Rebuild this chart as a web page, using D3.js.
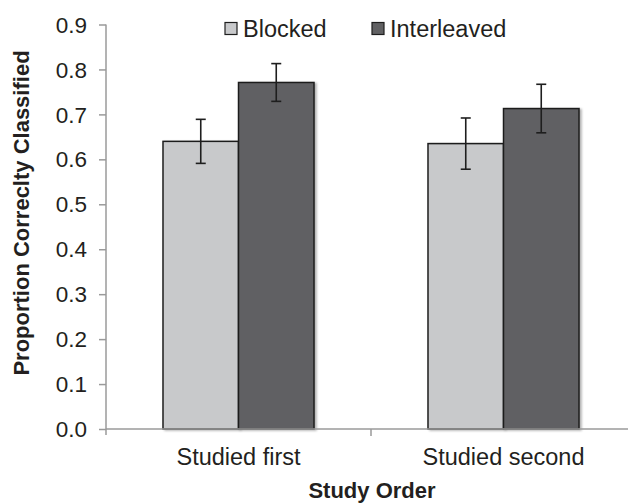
<!DOCTYPE html>
<html>
<head>
<meta charset="utf-8">
<script src="https://cdn.jsdelivr.net/npm/d3@7"></script>
<style>
  html, body { margin: 0; padding: 0; background: #fff; }
  svg { display: block; }
  text { font-family: "Liberation Sans", Arial, Helvetica, sans-serif; fill: #231f20; }
</style>
</head>
<body>
<svg id="chart" width="628" height="503"></svg>
<script>
// ---- data ----
const categories = ["Studied first", "Studied second"];
const seriesNames = ["Blocked", "Interleaved"];
const blockedValues = [0.640, 0.635];
const interleavedValues = [0.771, 0.713];
const blockedErrors = [0.049, 0.057];
const interleavedErrors = [0.042, 0.054];
const yTicks = [0.0, 0.1, 0.2, 0.3, 0.4, 0.5, 0.6, 0.7, 0.8, 0.9];
const yTitle = "Proportion Correclty Classified";
const xTitle = "Study Order";

// ---- styles / layout ----
const colors = { "Blocked": "#c8c9cb", "Interleaved": "#616163" };
const mLeft = 106, mRight = 636, mTop = 24.5, mBottom = 429;

const svg = d3.select("#chart");
const defs = svg.append("defs");
const f = defs.append("filter").attr("id", "shadow").attr("x", "-10%").attr("y", "-10%").attr("width", "130%").attr("height", "130%");
f.append("feDropShadow").attr("dx", 2).attr("dy", 1).attr("stdDeviation", 1).attr("flood-color", "#000").attr("flood-opacity", 0.3);

const y = d3.scaleLinear().domain([0, 0.9]).range([mBottom, mTop]);
const x0 = d3.scaleBand().domain(categories).range([mLeft, mRight]).padding(0);
const x1 = d3.scaleBand().domain(seriesNames).range([57, 208]).padding(0);

const rows = categories.map((c, i) => ({
  cat: c,
  items: [
    { s: "Blocked", v: blockedValues[i], e: blockedErrors[i] },
    { s: "Interleaved", v: interleavedValues[i], e: interleavedErrors[i] }
  ]
}));

// y axis
const yAxis = d3.axisLeft(y).tickValues(yTicks).tickFormat(d3.format(".1f")).tickSizeOuter(0).tickSizeInner(7).tickPadding(12);
const gy = svg.append("g").attr("transform", `translate(${mLeft},0)`).call(yAxis);
gy.select(".domain").attr("stroke", "#9a9a9a").attr("stroke-width", 1.5).attr("d", `M0,${mTop}V${mBottom + 6}`);
gy.selectAll(".tick line").attr("stroke", "#9a9a9a").attr("stroke-width", 1.5);
gy.selectAll(".tick text").attr("font-size", 22.5).attr("fill", "#231f20").attr("dy", "0.34em")
  .style("font-family", '"Liberation Sans", Arial, sans-serif');

// bars
const groups = svg.append("g").selectAll("g").data(rows).join("g")
  .attr("transform", d => `translate(${x0(d.cat)},0)`);

groups.selectAll("rect").data(d => d.items).join("rect")
  .attr("x", d => x1(d.s))
  .attr("y", d => y(d.v))
  .attr("width", x1.bandwidth())
  .attr("height", d => y(0) - y(d.v))
  .attr("fill", d => colors[d.s])
  .attr("stroke", "#1e1e1e")
  .attr("stroke-width", 1.5)
  .attr("filter", "url(#shadow)");

// error bars
const eb = groups.selectAll("g.err").data(d => d.items).join("g").attr("class", "err")
  .attr("transform", d => `translate(${x1(d.s) + x1.bandwidth() / 2},0)`);
eb.append("line").attr("x1", 0).attr("x2", 0)
  .attr("y1", d => y(d.v + d.e)).attr("y2", d => y(d.v - d.e))
  .attr("stroke", "#1e1e1e").attr("stroke-width", 1.6);
eb.append("line").attr("x1", -5).attr("x2", 5)
  .attr("y1", d => y(d.v + d.e)).attr("y2", d => y(d.v + d.e))
  .attr("stroke", "#1e1e1e").attr("stroke-width", 1.6);
eb.append("line").attr("x1", -5).attr("x2", 5)
  .attr("y1", d => y(d.v - d.e)).attr("y2", d => y(d.v - d.e))
  .attr("stroke", "#1e1e1e").attr("stroke-width", 1.6);

// x axis
const xAxis = d3.axisBottom(x0).tickSize(0).tickPadding(19);
const gx = svg.append("g").attr("transform", `translate(0,${mBottom})`).call(xAxis);
gx.select(".domain").attr("stroke", "#9a9a9a").attr("stroke-width", 1.5).attr("d", `M${mLeft},0H${mRight}`);
gx.selectAll(".tick text").attr("font-size", 23.5).attr("fill", "#231f20")
  .style("font-family", '"Liberation Sans", Arial, sans-serif');
// category boundary ticks
gx.selectAll("line.sep").data(categories.slice(1)).join("line").attr("class", "sep")
  .attr("x1", d => x0(d)).attr("x2", d => x0(d)).attr("y1", 0).attr("y2", 7)
  .attr("stroke", "#9a9a9a").attr("stroke-width", 1.5);

// axis titles
svg.append("text").attr("x", (mLeft + mRight) / 2 + 1).attr("y", 498)
  .attr("text-anchor", "middle").attr("font-size", 22).attr("font-weight", "bold").text(xTitle);
svg.append("text").attr("transform", `translate(29,213) rotate(-90)`)
  .attr("text-anchor", "middle").attr("font-size", 22).attr("font-weight", "bold").text(yTitle);

// legend
const legendX = [225, 372];
const lg = svg.append("g").selectAll("g").data(seriesNames).join("g")
  .attr("transform", (d, i) => `translate(${legendX[i]},22.5)`);
lg.append("rect").attr("width", 12).attr("height", 12)
  .attr("fill", d => colors[d]).attr("stroke", "#1e1e1e").attr("stroke-width", 1.2);
lg.append("text").attr("x", 18).attr("y", 14.5).attr("font-size", 23.5).text(d => d);
</script>
</body>
</html>
